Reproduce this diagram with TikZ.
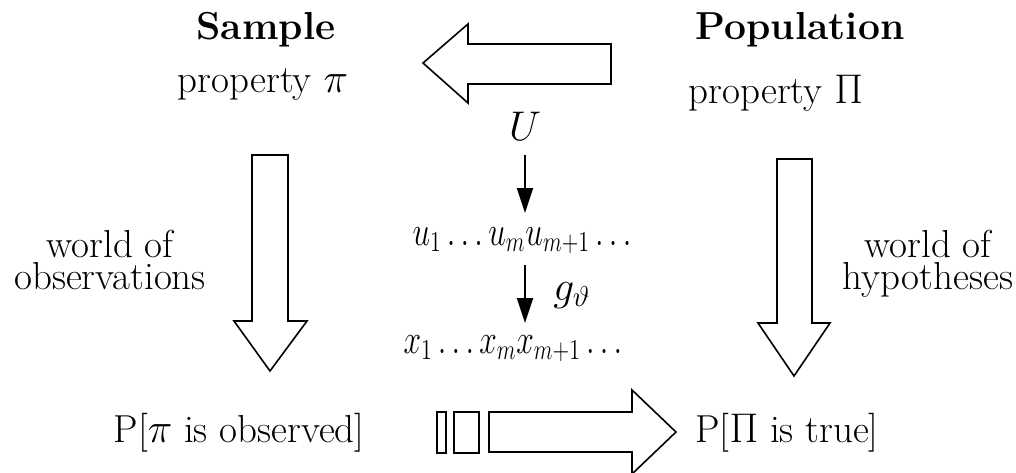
\documentclass[tikz,border=0pt]{standalone}
\usetikzlibrary{arrows.meta,calc}
\begin{document}
\begin{tikzpicture}[x=0.5pt,y=-0.5pt,
  txt/.style={font=\fontsize{19.5}{16}\selectfont,inner sep=0pt,anchor=base},
  two/.style={txt,align=center,anchor=base},
  mathrow/.style={txt},
  bigarrow/.style={draw=black,line width=0.8pt,fill=white,line join=miter},
  thinarrow/.style={line width=1.1pt,-{Triangle[length=12.5pt,width=8pt]}}]
\useasboundingbox (0,0) rectangle (1016,472);

% texts
\node[txt] (sample) at (266,39) {\textbf{Sample}};
\node[txt] (propl) at (263,92) {property $\pi$};
\node[txt] (popul) at (800,39) {\textbf{Population}};
\node[txt] (propr) at (776,103) {property $\Pi$};
\node[two] (obs) at (110,289) {world of\\observations};
\node[two] (hyp) at (928,289) {world of\\hypotheses};
\node[txt] (pobs) at (239,442) {P[$\pi$ is observed]};
\node[txt] (ptrue) at (787,442) {P[$\Pi$ is true]};

% middle chain
\node[txt] (U) at (525,140) {$U$};
\node[mathrow] (u) at (522,245) {\scalebox{0.76}[1]{$u_1\ldots u_m u_{m+1}\ldots$}};
\node[mathrow] (xs) at (513,353) {\scalebox{0.76}[1]{$x_1\ldots x_m x_{m+1}\ldots$}};
\node[txt,anchor=base west] (g) at (553,300) {$g_\vartheta$};

\draw[thinarrow] ($(U.base)+(0,15)$) -- ($(U.base)+(0,73)$);
\draw[thinarrow] ($(U.base)+(0,125)$) -- ($(U.base)+(0,183)$);

% big block arrows
\draw[bigarrow] (423,63) -- (468,24) -- (468,44) -- (611,44) -- (611,84) -- (468,84) -- (468,103) -- cycle;
\draw[bigarrow] (252,155) -- (288,155) -- (288,321) -- (307,321) -- (270,371) -- (234,321) -- (252,321) -- cycle;
\draw[bigarrow] (777,159) -- (812,159) -- (812,323) -- (830,323) -- (794,376) -- (758,323) -- (777,323) -- cycle;
\draw[bigarrow] (437,412) rectangle (446,453);
\draw[bigarrow] (454,412) rectangle (479,453);
\draw[bigarrow] (489,412) -- (632,412) -- (632,390) -- (676,432) -- (632,474) -- (632,452) -- (489,452) -- cycle;
\end{tikzpicture}
\end{document}
